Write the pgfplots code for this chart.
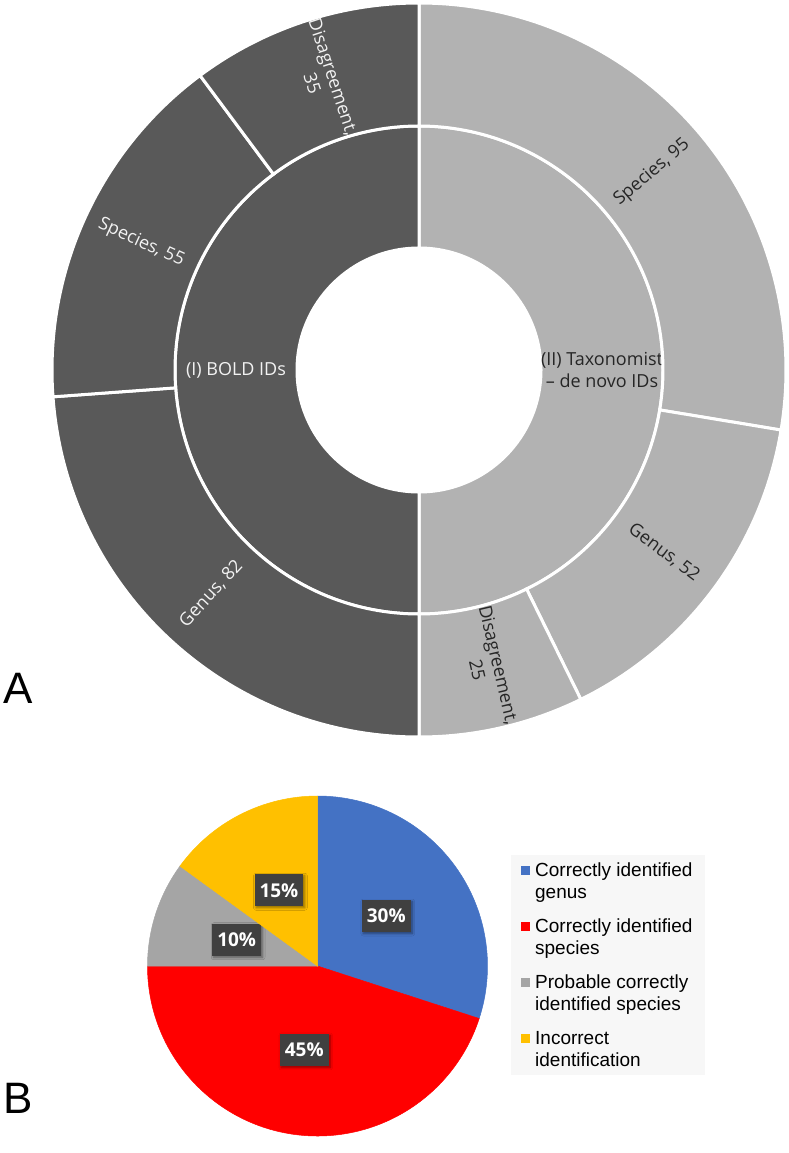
\documentclass[border=0pt]{standalone}
\usepackage{pgfplots}
\pgfplotsset{compat=1.18}
\usepackage{pgfplotstable}
\usetikzlibrary{shadows.blur}
\usepackage{fontspec}
\setmainfont{Open Sans}
\newfontfamily\arialfont{Liberation Sans}

\definecolor{sbdark}{RGB}{89,89,89}
\definecolor{sblight}{RGB}{178,178,178}
\definecolor{sbdarktext}{RGB}{242,242,242}
\definecolor{sblighttext}{RGB}{38,38,38}
\definecolor{pieblue}{RGB}{68,114,196}
\definecolor{piered}{RGB}{255,0,0}
\definecolor{piegray}{RGB}{165,165,165}
\definecolor{pieyellow}{RGB}{255,192,0}
\definecolor{boxgray}{RGB}{64,64,64}
\definecolor{legbg}{RGB}{247,247,247}

\newcommand\ringfont{\fontsize{18}{22}\selectfont}

% A: inner ring, clockwise from 12 o'clock
\pgfplotstableread[col sep=semicolon]{
name;tail;value;fc;tc;brk
(II) Taxonomist;– de novo IDs;172;sblight;sblighttext;1
(I) BOLD IDs;-;172;sbdark;sbdarktext;0
}\innerring
% A: outer ring
\pgfplotstableread[col sep=semicolon]{
name;tail;value;fc;tc;brk
Species;-;95;sblight;sblighttext;0
Genus;-;52;sblight;sblighttext;0
Disagreement;-;25;sblight;sblighttext;1
Genus;-;82;sbdark;sbdarktext;0
Species;-;55;sbdark;sbdarktext;0
Disagreement;-;35;sbdark;sbdarktext;1
}\outerring
% B: pie, percent
\pgfplotstableread[col sep=semicolon]{
name;tail;value;fc;tc;brk
Correctly identified genus;-;30;pieblue;white;0
Correctly identified species;-;45;piered;white;0
Probable correctly identified species;-;10;piegray;white;0
Incorrect identification;-;15;pieyellow;white;0
}\piedata

\newcommand\settotal[2]{%
  \gdef#2{0}%
  \pgfplotstableforeachcolumnelement{value}\of#1\as\wCell{%
    \pgfmathparse{#2+\wCell}\xdef#2{\pgfmathresult}}}
\settotal\innerring\totinner
\settotal\outerring\totouter
\settotal\piedata\totpie

\newcommand\wget[3]{\pgfplotstablegetelem{\wIdx}{#2}\of#1\global\let#3\pgfplotsretval}

% every row is one wedge, drawn around the plotted point (the centre)
\pgfplotsset{
  wedge plot/.style n args={4}{% table, inner radius, outer radius (pt), total
    scatter, only marks, mark=text, text mark={}, forget plot,
    point meta min=0, point meta max=1,
    execute at begin plot visualization={\gdef\wAcc{0}\gdef\wIdx{0}},
    scatter/@pre marker code/.code={%
      \wget{#1}{value}\wVal \wget{#1}{fc}\wFill \wget{#1}{tc}\wText
      \wget{#1}{name}\wName \wget{#1}{tail}\wTail \wget{#1}{brk}\wBrk
      \pgfmathsetmacro\aS{90-\wAcc/#4*360}%
      \pgfmathsetmacro\wNew{\wAcc+\wVal}%
      \xdef\wAcc{\wNew}%
      \pgfmathtruncatemacro\wNew{\wIdx+1}%
      \xdef\wIdx{\wNew}%
      \pgfmathsetmacro\aE{90-\wAcc/#4*360}%
      \pgfmathsetmacro\aM{(\aS+\aE)/2}%
      \pgfmathsetmacro\rM{(#2+#3)/2}%
      \path[fill=\wFill,/wedge/border] (\aS:#2pt) arc[start angle=\aS,end angle=\aE,radius=#2pt]
        -- (\aE:#3pt) arc[start angle=\aE,end angle=\aS,radius=#3pt] -- cycle;
      \pgfkeys{/wedge/label}%
    },
    scatter/@post marker code/.code={},
  },
}

\newcommand\legsquare[1]{\addlegendimage{legend image code/.code={%
  \path[draw=none,fill=none] (0pt,-15.5pt) rectangle (12pt,15.5pt);
  \fill[#1,draw=none] (0pt,6.5pt) rectangle (9pt,15.5pt);}}}

\begin{document}
\begin{tikzpicture}
\useasboundingbox (0,0) rectangle (789pt,-1153pt);

\begin{axis}[
  at={(419pt,-370pt)}, anchor=center,
  width=734pt, height=734pt, scale only axis,
  xmin=-1, xmax=1, ymin=-1, ymax=1,
  hide axis, clip=false,
]
\addplot[wedge plot={\innerring}{122}{244}{\totinner},
  /wedge/border/.style={draw=white,line width=3pt},
  /wedge/label/.code={%
    \ifnum\wBrk=1 \def\wSep{\\\wTail}\else\def\wSep{}\fi
    \node[align=center,text=\wText,font=\ringfont]
    at (\aM:\rM pt) {\wName\wSep};},
] table[x expr=0, y expr=0] {\innerring};
\addplot[wedge plot={\outerring}{244}{367}{\totouter},
  /wedge/border/.style={draw=white,line width=3pt},
  /wedge/label/.code={%
    \pgfmathsetmacro\aR{\aM<-90 ? \aM+180 : \aM}%
    \ifnum\wBrk=1 \def\wSep{\\}\else\def\wSep{ }\fi
    \node[rotate=\aR,align=center,text=\wText,font=\ringfont]
      at (\aM:\rM pt) {\wName,\wSep\wVal};},
] table[x expr=0, y expr=0] {\outerring};
\end{axis}

\begin{axis}[
  at={(317.5pt,-966pt)}, anchor=center,
  width=340pt, height=340pt, scale only axis,
  xmin=-1, xmax=1, ymin=-1, ymax=1,
  hide axis, clip=false,
  legend style={at={(axis description cs:1.069,0.826)}, anchor=north west,
    draw=none, fill=legbg, font=\arialfont\fontsize{19}{22}\selectfont,
    cells={anchor=west, align=left}, row sep=15pt,
    inner xsep=10pt, inner ysep=5pt},
]
\addplot[wedge plot={\piedata}{0}{170}{\totpie},
  /wedge/border/.style={draw=\wFill,line width=0.5pt},
  /wedge/label/.code={\node[fill=boxgray,text=white,font=\bfseries\fontsize{19}{22}\selectfont,
    minimum height=32pt,minimum width=48pt,inner xsep=5pt,
    blur shadow={shadow xshift=1.5pt,shadow yshift=-1.5pt,shadow blur radius=2.5pt,
      shadow blur steps=6,shadow opacity=45}]
    at (\aM:\rM pt) {\wVal\%};},
] table[x expr=0, y expr=0] {\piedata};
\legsquare{pieblue}
\addlegendentry{Correctly identified\\genus}
\legsquare{piered}
\addlegendentry{Correctly identified\\species}
\legsquare{piegray}
\addlegendentry{Probable correctly\\identified species}
\legsquare{pieyellow}
\addlegendentry{Incorrect\\identification}
\end{axis}

\node[anchor=base west,inner sep=0pt,font=\arialfont\fontsize{44}{44}\selectfont] at (3pt,-703pt) {A};
\node[anchor=base west,inner sep=0pt,font=\arialfont\fontsize{44}{44}\selectfont] at (3pt,-1113pt) {B};
\end{tikzpicture}
\end{document}
